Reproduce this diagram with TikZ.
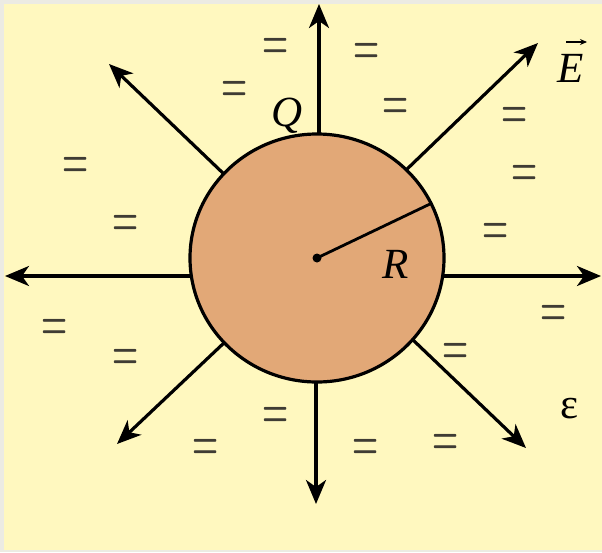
\documentclass[tikz,border=0pt]{standalone}
\usepackage{fontspec}
\setmainfont{Liberation Serif}
\newfontfamily\lmfont{Latin Modern Roman}
\usepackage{graphicx}
\usetikzlibrary{arrows.meta}
\definecolor{bgyellow}{HTML}{FFF8BF}
\definecolor{framegray}{HTML}{ECEBE3}
\definecolor{ballfill}{HTML}{E2A877}
\definecolor{eqgray}{HTML}{3F3C34}
\tikzset{
  fieldarrow/.style={line width=3.2pt, -{Stealth[length=24pt,width=20pt,inset=7pt]}},
  eqsign/.style={text=eqgray, inner sep=0pt, anchor=base, yshift=-13pt,
                 font=\lmfont\bfseries\fontsize{26}{26}\selectfont},
  lbl/.style={inner sep=0pt, anchor=base, font=\fontsize{43}{43}\selectfont\itshape},
  uplbl/.style={inner sep=0pt, anchor=base, font=\fontsize{43}{43}\selectfont},
}
\newcommand{\eqmark}{\scalebox{1.15}[2.0]{=}}
\begin{document}
\begin{tikzpicture}[x=1pt,y=-1pt]
\useasboundingbox (0,0) rectangle (602,552);
\fill[framegray] (0,0) rectangle (602,552);
\fill[bgyellow] (4,4) rectangle (602,550);

% start points on the sphere and arrow tips
\coordinate (c) at (317,258);
\coordinate (sN) at (319,140);  \coordinate (tN) at (319,4);
\coordinate (sS) at (316,376);  \coordinate (tS) at (316,504);
\coordinate (sW) at (195,276);  \coordinate (tW) at (5,276);
\coordinate (sE) at (441,276);  \coordinate (tE) at (601,276);
\coordinate (sNE) at (404,172); \coordinate (tNE) at (538,43);
\coordinate (sNW) at (226,176); \coordinate (tNW) at (109,64);
\coordinate (sSW) at (226,341); \coordinate (tSW) at (117,444);
\coordinate (sSE) at (412,339); \coordinate (tSE) at (526,448);

\foreach \d in {N,S,W,E,NE,NW,SW,SE}
  \draw[fieldarrow] (s\d) -- (t\d);

% sphere
\draw[line width=3.2pt, fill=ballfill] (c) ellipse [x radius=127, y radius=124];
\coordinate (rend) at (430,204);
\draw[line width=2.8pt] (c) -- (rend);
\fill (c) circle (4.5);

% labels
\node[lbl] (Q) at (287,126) {Q};
\node[lbl] (R) at (396,278) {R};
\node[lbl] (E) at (571,82) {E};
\draw[line width=1.4pt, -{Stealth[length=7pt,width=6pt]}] (566,42) -- (587,42);
\node[uplbl] (eps) at (570,418) {ε};

% dielectric marks
\node[eqsign] (e1) at (276,45) {\eqmark};
\node[eqsign] (e2) at (367,50) {\eqmark};
\node[eqsign] (e3) at (235,88) {\eqmark};
\node[eqsign] (e4) at (396,105) {\eqmark};
\node[eqsign] (e5) at (515,114) {\eqmark};
\node[eqsign] (e6) at (76,164) {\eqmark};
\node[eqsign] (e7) at (525,172) {\eqmark};
\node[eqsign] (e8) at (126,222) {\eqmark};
\node[eqsign] (e9) at (496,230) {\eqmark};
\node[eqsign] (e10) at (55,326) {\eqmark};
\node[eqsign] (e11) at (554,312) {\eqmark};
\node[eqsign] (e12) at (126,356) {\eqmark};
\node[eqsign] (e13) at (456,350) {\eqmark};
\node[eqsign] (e14) at (276,414) {\eqmark};
\node[eqsign] (e15) at (206,446) {\eqmark};
\node[eqsign] (e16) at (366,446) {\eqmark};
\node[eqsign] (e17) at (446,441) {\eqmark};
\end{tikzpicture}
\end{document}
